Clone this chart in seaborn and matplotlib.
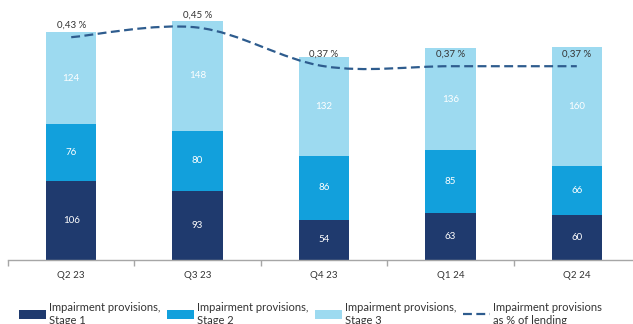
import numpy as np
import pandas as pd
import seaborn as sns
import matplotlib.pyplot as plt
from matplotlib.path import Path
from matplotlib.patches import PathPatch, Patch
from matplotlib.lines import Line2D

quarters = ["Q2 23", "Q3 23", "Q4 23", "Q1 24", "Q2 24"]
stage1 = [106, 93, 54, 63, 60]
stage2 = [76, 80, 86, 85, 66]
stage3 = [124, 148, 132, 136, 160]
pct_of_lending = [0.43, 0.45, 0.37, 0.37, 0.37]

C1, C2, C3 = "#1f3a6e", "#12a0dc", "#9ddaf0"
LINE_C = "#2e5c8e"
TXT = "#333333"

sns.set_theme(style="white")
plt.rcParams["font.family"] = ["Lato", "DejaVu Sans"]

df = pd.DataFrame({"q": quarters, "s1": stage1, "s2": stage2, "s3": stage3})
df["s12"] = df["s1"] + df["s2"]
df["s123"] = df["s12"] + df["s3"]

fig = plt.figure(figsize=(6.33, 3.24), dpi=100)
ax = fig.add_axes([8 / 633, 64 / 324, 632 / 633, 260 / 324])

# stacked bars: draw cumulative totals back to front
for col, c in [("s123", C3), ("s12", C2), ("s1", C1)]:
    sns.barplot(data=df, x="q", y=col, color=c, width=0.4, saturation=1,
                ax=ax, linewidth=0)

ax.set_xlim(-0.5, 4.5)
ax.set_ylim(0, 349)
ax.set_xlabel("")
ax.set_ylabel("")
ax.set_yticks([])
for s in ["left", "right", "top"]:
    ax.spines[s].set_visible(False)
ax.spines["bottom"].set_color("#a6a6a6")
ax.spines["bottom"].set_linewidth(1.0)
ax.set_xticks(range(len(quarters)))
ax.set_xticklabels(quarters, fontsize=7, color=TXT)
ax.tick_params(axis="x", which="major", length=0, pad=8)
ax.set_xticks(np.arange(-0.5, 5.0, 1.0), minor=True)
ax.tick_params(axis="x", which="minor", length=4, width=1, color="#a6a6a6",
               bottom=True)

# segment value labels
for i in range(len(quarters)):
    for lo, val in [(0, stage1[i]), (stage1[i], stage2[i]),
                    (stage1[i] + stage2[i], stage3[i])]:
        ax.text(i, lo + val / 2, f"{val}", ha="center", va="center",
                fontsize=7, color="white")

# share of lending on a secondary axis, drawn as a smooth dashed curve
ax2 = ax.twinx()
ax2.set_ylim(-0.031, 0.507)
ax2.set_xlim(-0.5, 4.5)
ax2.axis("off")

xs = np.arange(len(quarters), dtype=float)
ys = np.array(pct_of_lending, dtype=float)
pts = np.column_stack([xs, ys])
ext = np.vstack([pts[0], pts, pts[-1]])
verts = [tuple(pts[0])]
codes = [Path.MOVETO]
for k in range(len(pts) - 1):
    p0, p1, p2, p3 = ext[k], ext[k + 1], ext[k + 2], ext[k + 3]
    c1 = p1 + (p2 - p0) / 6
    c2 = p2 - (p3 - p1) / 6
    verts += [tuple(c1), tuple(c2), tuple(p2)]
    codes += [Path.CURVE4] * 3
ax2.add_patch(PathPatch(Path(verts, codes), fill=False, edgecolor=LINE_C,
                        linewidth=1.6, linestyle=(0, (4, 2))))

for x, v in zip(xs, ys):
    ax2.annotate(f"{v:.2f} %".replace(".", ","), (x, v), xytext=(0, 9),
                 textcoords="offset points", ha="center", va="center",
                 fontsize=7, color=TXT)

handles = [
    Patch(facecolor=C1, edgecolor="none"),
    Patch(facecolor=C2, edgecolor="none"),
    Patch(facecolor=C3, edgecolor="none"),
    Line2D([0], [0], color=LINE_C, linewidth=1.6, linestyle=(0, (4, 2))),
]
labels = [
    "Impairment provisions,\nStage 1",
    "Impairment provisions,\nStage 2",
    "Impairment provisions,\nStage 3",
    "Impairment provisions\nas % of lending",
]
fig.legend(handles, labels, loc="upper left", bbox_to_anchor=(19 / 633, 1 - 302 / 324),
           ncol=4, frameon=False, fontsize=8, handlelength=2.4, handleheight=0.9,
           handletextpad=0.3, columnspacing=0.6, borderpad=0, borderaxespad=0,
           labelcolor=TXT, alignment="left")

fig.savefig("out.png", dpi=100)
